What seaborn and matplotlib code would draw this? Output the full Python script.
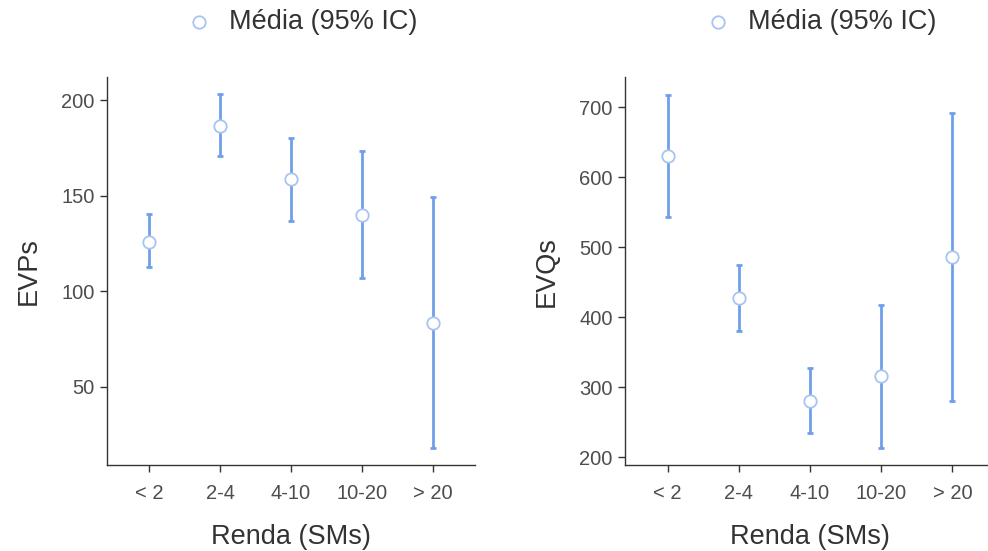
import pandas as pd
import matplotlib.pyplot as plt
import seaborn as sns

faixas = ["< 2", "2-4", "4-10", "10-20", "> 20"]

evp_media = [125.8, 186.6, 158.5, 139.8, 83.2]
evp_inf = [112.4, 170.7, 136.6, 107.0, 18.0]
evp_sup = [140.2, 203.1, 180.1, 173.3, 149.2]

evq_media = [630, 427, 281, 316, 486]
evq_inf = [543, 381, 235, 214, 280]
evq_sup = [718, 474, 327, 418, 692]

sns.set_theme(style="ticks")
plt.rcParams['font.family'] = ['Liberation Sans', 'DejaVu Sans']

cor_linha = '#6f9fe8'
cor_borda = '#a8c4f2'
cinza = '#4d4d4d'

fig = plt.figure(figsize=(9.88, 5.51), dpi=100)
ax1 = fig.add_axes([0.1083, 0.156, 0.3725, 0.704])
ax2 = fig.add_axes([0.6326, 0.156, 0.3745, 0.704])


def painel(ax, media, inf, sup, ylabel, ylim, yticks):
    df = pd.DataFrame({'faixa': faixas, 'media': media, 'inf': inf, 'sup': sup})
    x = list(range(len(faixas)))
    ax.errorbar(x, df['media'],
                yerr=[df['media'] - df['inf'], df['sup'] - df['media']],
                fmt='none', ecolor=cor_linha, elinewidth=2, capsize=2.5,
                capthick=2, zorder=2)
    sns.scatterplot(x=x, y=df['media'], ax=ax, s=80, color='white',
                    edgecolor=cor_borda, linewidth=1.3, zorder=3,
                    label='Média (95% IC)')
    ax.set_xlim(-0.6, 4.6)
    ax.set_ylim(*ylim)
    ax.set_yticks(yticks)
    ax.set_xticks(x)
    ax.set_xticklabels(faixas)
    ax.set_xlabel('Renda (SMs)', fontsize=19.5, color='#333333', labelpad=15)
    ax.set_ylabel(ylabel, fontsize=19.5, color='#333333', labelpad=14)
    ax.tick_params(axis='both', labelsize=14.5, colors='#333333',
                   labelcolor=cinza, length=5, width=1, pad=4)
    ax.tick_params(axis='x', pad=9)
    for lado in ['top', 'right']:
        ax.spines[lado].set_visible(False)
    for lado in ['left', 'bottom']:
        ax.spines[lado].set_color('#333333')
        ax.spines[lado].set_linewidth(1)
    leg = ax.legend(loc='center', bbox_to_anchor=(0.51, 1.142),
                    frameon=False, fontsize=19.5, handletextpad=0.1,
                    borderaxespad=0)
    for t in leg.get_texts():
        t.set_color('#333333')


painel(ax1, evp_media, evp_inf, evp_sup, 'EVPs', (9, 212), [50, 100, 150, 200])
painel(ax2, evq_media, evq_inf, evq_sup, 'EVQs', (189, 743),
       [200, 300, 400, 500, 600, 700])

fig.savefig('out.png', dpi=100)
